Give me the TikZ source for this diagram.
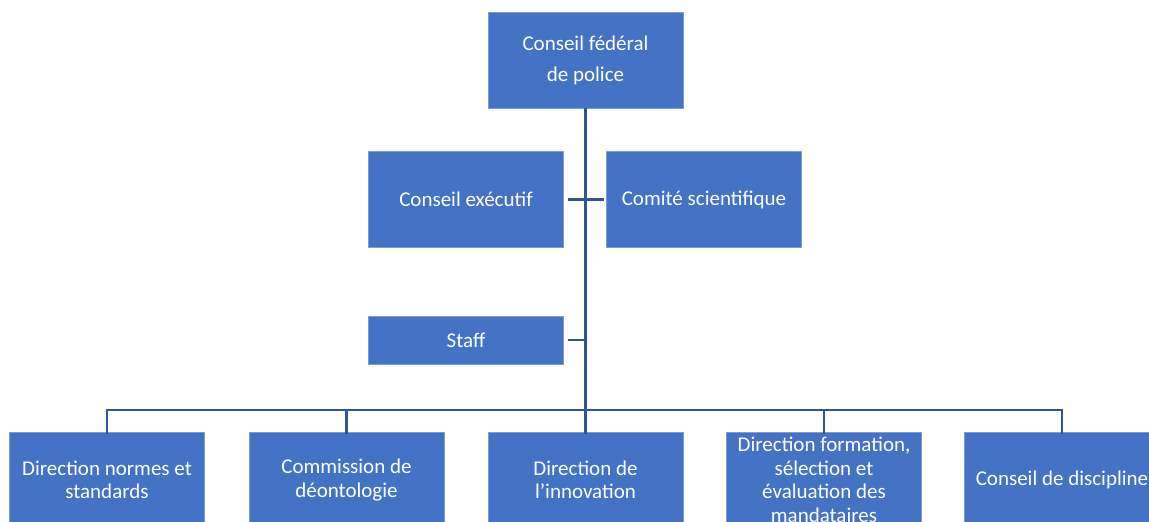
\documentclass[tikz,border=0pt]{standalone}
\usepackage{fontspec}
\setmainfont{Carlito}
\definecolor{boxfill}{HTML}{4472C4}
\definecolor{boxedge}{HTML}{7C9BD6}
\definecolor{linecol}{HTML}{2F5597}
\begin{document}
\begin{tikzpicture}[x=1pt,y=-1pt,
  orgbox/.style={fill=boxfill,draw=boxedge,line width=0.6pt,text=white,
    minimum width=195pt,minimum height=96pt,inner sep=0pt,align=center,
    font=\fontsize{21}{23.5}\selectfont},
  link/.style={draw=linecol,line width=2.8pt}]
\useasboundingbox (0,0) rectangle (1149,522);
\clip (0,0) rectangle (1149,522);
\node[orgbox] (top) at (585.5,60) {Conseil fédéral\\[7.5pt]de police};
\node[orgbox] (ce) at (466,199.5) {Conseil exécutif};
\node[orgbox] (cs) at (704,199.5) {Comité scientifique};
\node[orgbox,minimum height=48pt] (staff) at (466,340) {Staff};
\node[orgbox] (b1) at (107,480) {Direction normes et\\standards};
\node[orgbox] (b2) at (346.5,480) {Commission de\\déontologie};
\node[orgbox] (b3) at (585.5,480) {Direction de\\l'innovation};
\node[orgbox] (b4) at (824,480) {Direction formation,\\sélection et\\évaluation des\\mandataires};
\node[orgbox] (b5) at (1062,480) {Conseil de discipline};
\coordinate (bus) at (585.5,410);
\draw[link] (top.south) -- (bus);
\draw[link] ([xshift=4pt]ce.east) -- ([xshift=-2pt]cs.west);
\draw[link] ([xshift=4pt]staff.east) -- (staff.east -| top.south);
\draw[link,line join=miter] ([yshift=-2pt]b1.north) -- (b1.north |- bus) -- (b5.north |- bus) -- ([yshift=-2pt]b5.north);
\foreach \b in {b2,b3,b4} \draw[link] ([yshift=-2pt]\b.north) -- (\b.north |- bus);
\end{tikzpicture}
\end{document}
